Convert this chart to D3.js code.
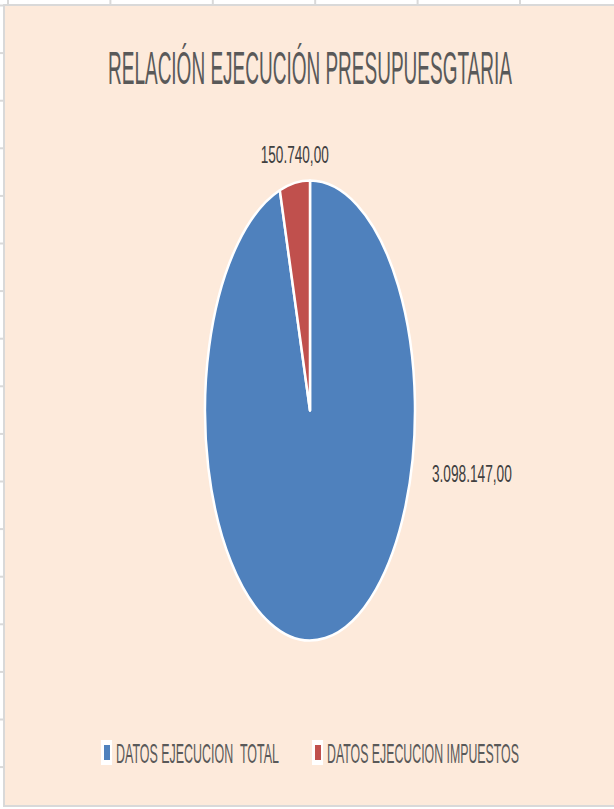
<!DOCTYPE html>
<html>
<head>
<meta charset="utf-8">
<title>Relación ejecución presupuestaria</title>
<script src="https://d3js.org/d3.v7.min.js"></script>
<style>
	body { margin: 0; padding: 0; background: #fff; }
	svg { display: block; }
	text { font-family: "Liberation Sans Narrow", "Liberation Sans", Arial, sans-serif; }
</style>
</head>
<body>
<div id="chart"></div>
<script>

// data
var categories = ["DATOS EJECUCION  TOTAL", "DATOS EJECUCION IMPUESTOS"];
var values = [3098147, 150740];
var colors = ["#4F81BD", "#C0504D"];
var title = "RELACIÓN EJECUCIÓN PRESUPUESGTARIA";

var W = 614, H = 809;

// spanish number format 3.098.147,00
var es = d3.formatLocale({ decimal: ",", thousands: ".", grouping: [3], currency: ["", ""] });
var fmt = es.format(",.2f");

// squeeze a text horizontally (the excel object is stretched) so it spans w px from x
function fitText(t, x, y, w) {
	t.attr("x", 0).attr("y", 0).style("white-space", "pre");
	var nat = t.node().getComputedTextLength();
	t.attr("transform", "translate(" + x + "," + y + ") scale(" + (w / nat) + ",1)");
}

var svg = d3.select("#chart").append("svg")
	.attr("width", W)
	.attr("height", H);

// sheet background with cell gridlines peeking out
svg.append("rect").attr("width", W).attr("height", H).attr("fill", "#fff");

var colX = d3.range(8, W, 102.4);
svg.selectAll(".col").data(colX).enter().append("line")
	.attr("x1", function(d) { return d; }).attr("x2", function(d) { return d; })
	.attr("y1", 0).attr("y2", 6)
	.attr("stroke", "#d9d9d9").attr("stroke-width", 2);

var rowY = d3.range(5.5, H, 47.6);
svg.selectAll(".row").data(rowY).enter().append("line")
	.attr("x1", 0).attr("x2", 4)
	.attr("y1", function(d) { return d; }).attr("y2", function(d) { return d; })
	.attr("stroke", "#d9d9d9").attr("stroke-width", 2);

// chart area
svg.append("rect")
	.attr("x", 4).attr("y", 5)
	.attr("width", W).attr("height", 801)
	.attr("fill", "#FDEADB")
	.attr("stroke", "#d9d9d9").attr("stroke-width", 2);

// title
var tt = svg.append("text")
	.attr("font-size", 46)
	.attr("fill", "#595959")
	.text(title);
fitText(tt, 108, 84, 404);

// pie (elliptical, like the stretched excel object)
var cx = 310, cy = 410.5, ry = 230, rx = 105;

var pie = d3.pie().sort(null).value(function(d) { return d; });
var arcs = pie(values);
var arc = d3.arc().innerRadius(0).outerRadius(ry);

var g = svg.append("g")
	.attr("transform", "translate(" + cx + "," + cy + ") scale(" + (rx / ry) + ",1)");

g.selectAll("path").data(arcs).enter().append("path")
	.attr("d", arc)
	.attr("fill", function(d, i) { return colors[i]; })
	.attr("stroke", "#fff")
	.attr("stroke-width", 2.5)
	.attr("stroke-linejoin", "round")
	.attr("vector-effect", "non-scaling-stroke");

// data labels: angle on the ellipse + offset
var labelPos = [
	{ angle: 104, dx: 20, dy: 16, anchor: "start", len: 80 },
	{ angle: null, dx: 0, dy: -20, anchor: "middle", len: 68 }
];

svg.selectAll(".lbl").data(arcs).enter().append("text")
	.attr("class", "lbl")
	.each(function(d, i) {
		var p = labelPos[i];
		var a = p.angle !== null ? p.angle * Math.PI / 180 : (d.startAngle + d.endAngle) / 2;
		var x = cx + Math.sin(a) * rx + p.dx;
		var y = cy - Math.cos(a) * ry + p.dy;
		var t = d3.select(this)
			.attr("font-size", 24)
			.attr("fill", "#404040")
			.text(fmt(d.data));
		fitText(t, p.anchor === "middle" ? x - p.len / 2 : x, y, p.len);
	});

// legend
var legendItems = [
	{ x: 101, len: 163 },
	{ x: 312, len: 192 }
];

var lg = svg.selectAll(".leg").data(categories).enter().append("g")
	.attr("transform", function(d, i) { return "translate(" + legendItems[i].x + ",740)"; });

lg.append("rect")
	.attr("width", 11).attr("height", 25)
	.attr("fill", "#fff");

lg.append("rect")
	.attr("x", 3).attr("y", 5)
	.attr("width", 6).attr("height", 15)
	.attr("fill", function(d, i) { return colors[i]; });

lg.append("text")
	.attr("font-size", 27)
	.attr("fill", "#595959")
	.text(function(d) { return d; })
	.each(function(d, i) { fitText(d3.select(this), 15, 23, legendItems[i].len); });

</script>
</body>
</html>
